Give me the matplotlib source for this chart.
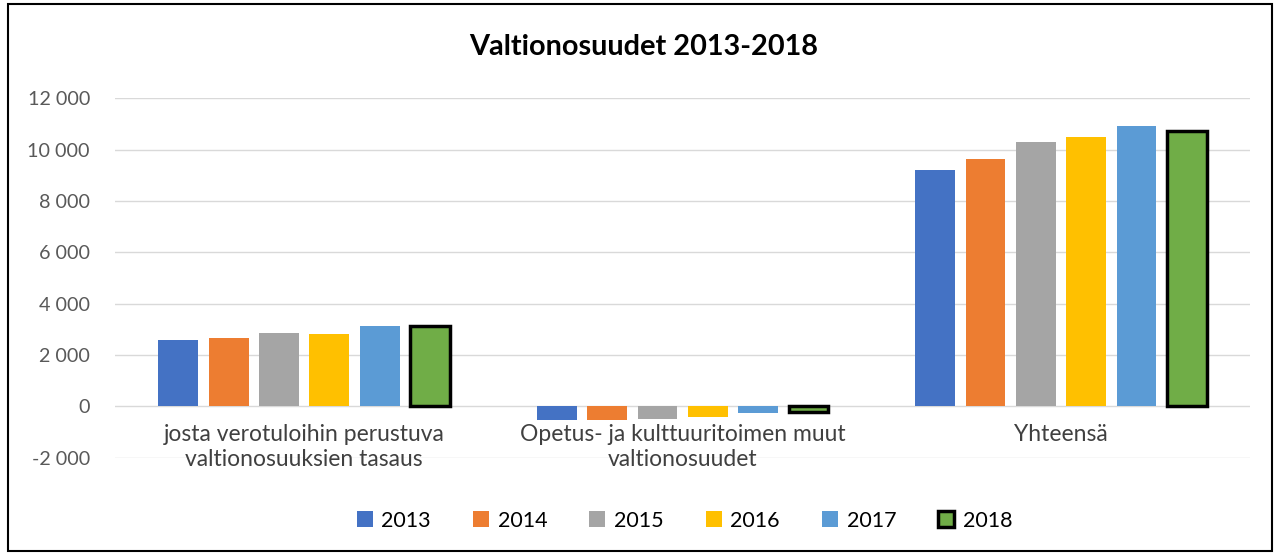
import matplotlib.pyplot as plt
from matplotlib.patches import Rectangle
from matplotlib.ticker import FuncFormatter
import numpy as np

plt.rcParams['font.family'] = ['Lato', 'DejaVu Sans']

categories = ['josta verotuloihin perustuva\nvaltionosuuksien tasaus',
              'Opetus- ja kulttuuritoimen muut\nvaltionosuudet',
              'Yhteensä']
years = ['2013', '2014', '2015', '2016', '2017', '2018']
v2013 = [2600, -530, 9200]
v2014 = [2680, -530, 9620]
v2015 = [2850, -480, 10280]
v2016 = [2810, -420, 10510]
v2017 = [3140, -270, 10930]
v2018 = [3150, -220, 10720]
series = [v2013, v2014, v2015, v2016, v2017, v2018]
colors = ['#4472C4', '#ED7D31', '#A5A5A5', '#FFC000', '#5B9BD5', '#70AD47']

fig = plt.figure(figsize=(12.77, 5.55), dpi=100)
ax = fig.add_axes([0.09, 0.175, 0.889, 0.648])

x = np.arange(len(categories))
pitch = 0.133
width = 0.105
for i, (vals, year, c) in enumerate(zip(series, years, colors)):
    pos = x + (i - 2.5) * pitch
    if year == '2018':
        ax.bar(pos, vals, width, color=c, edgecolor='black', linewidth=2.5, label=year, zorder=3)
    else:
        ax.bar(pos, vals, width, color=c, label=year, zorder=3)

ax.set_xlim(-0.5, 2.5)
ax.set_ylim(-2000, 12000)
ax.set_yticks(np.arange(-2000, 12001, 2000))
ax.yaxis.set_major_formatter(FuncFormatter(lambda v, p: f'{int(v):,}'.replace(',', ' ')))
ax.tick_params(axis='y', length=0, labelsize=14.2, labelcolor='#595959', pad=18)
ax.set_xticks([])
ax.grid(axis='y', color='#D9D9D9', linewidth=1, zorder=0)
for s in ax.spines.values():
    s.set_visible(False)

for xi, lab in zip(x, categories):
    ax.text(xi, -700, lab, ha='center', va='top', fontsize=16.5, color='#404040',
            linespacing=1.2)

fig.text(0.504, 0.915, 'Valtionosuudet 2013-2018', ha='center', va='center',
         fontsize=20.8, fontweight='bold', color='black')

fig.legend(loc='center', bbox_to_anchor=(0.536, 0.062), ncol=6, frameon=False,
           fontsize=15.5, handlelength=0.75, handleheight=0.75, columnspacing=1.95,
           handletextpad=0.4)

fig.patches.append(Rectangle((0.006, 0.007), 0.99, 0.986, transform=fig.transFigure,
                             fill=False, edgecolor='black', linewidth=1.5))

fig.savefig('out.png', dpi=100)
